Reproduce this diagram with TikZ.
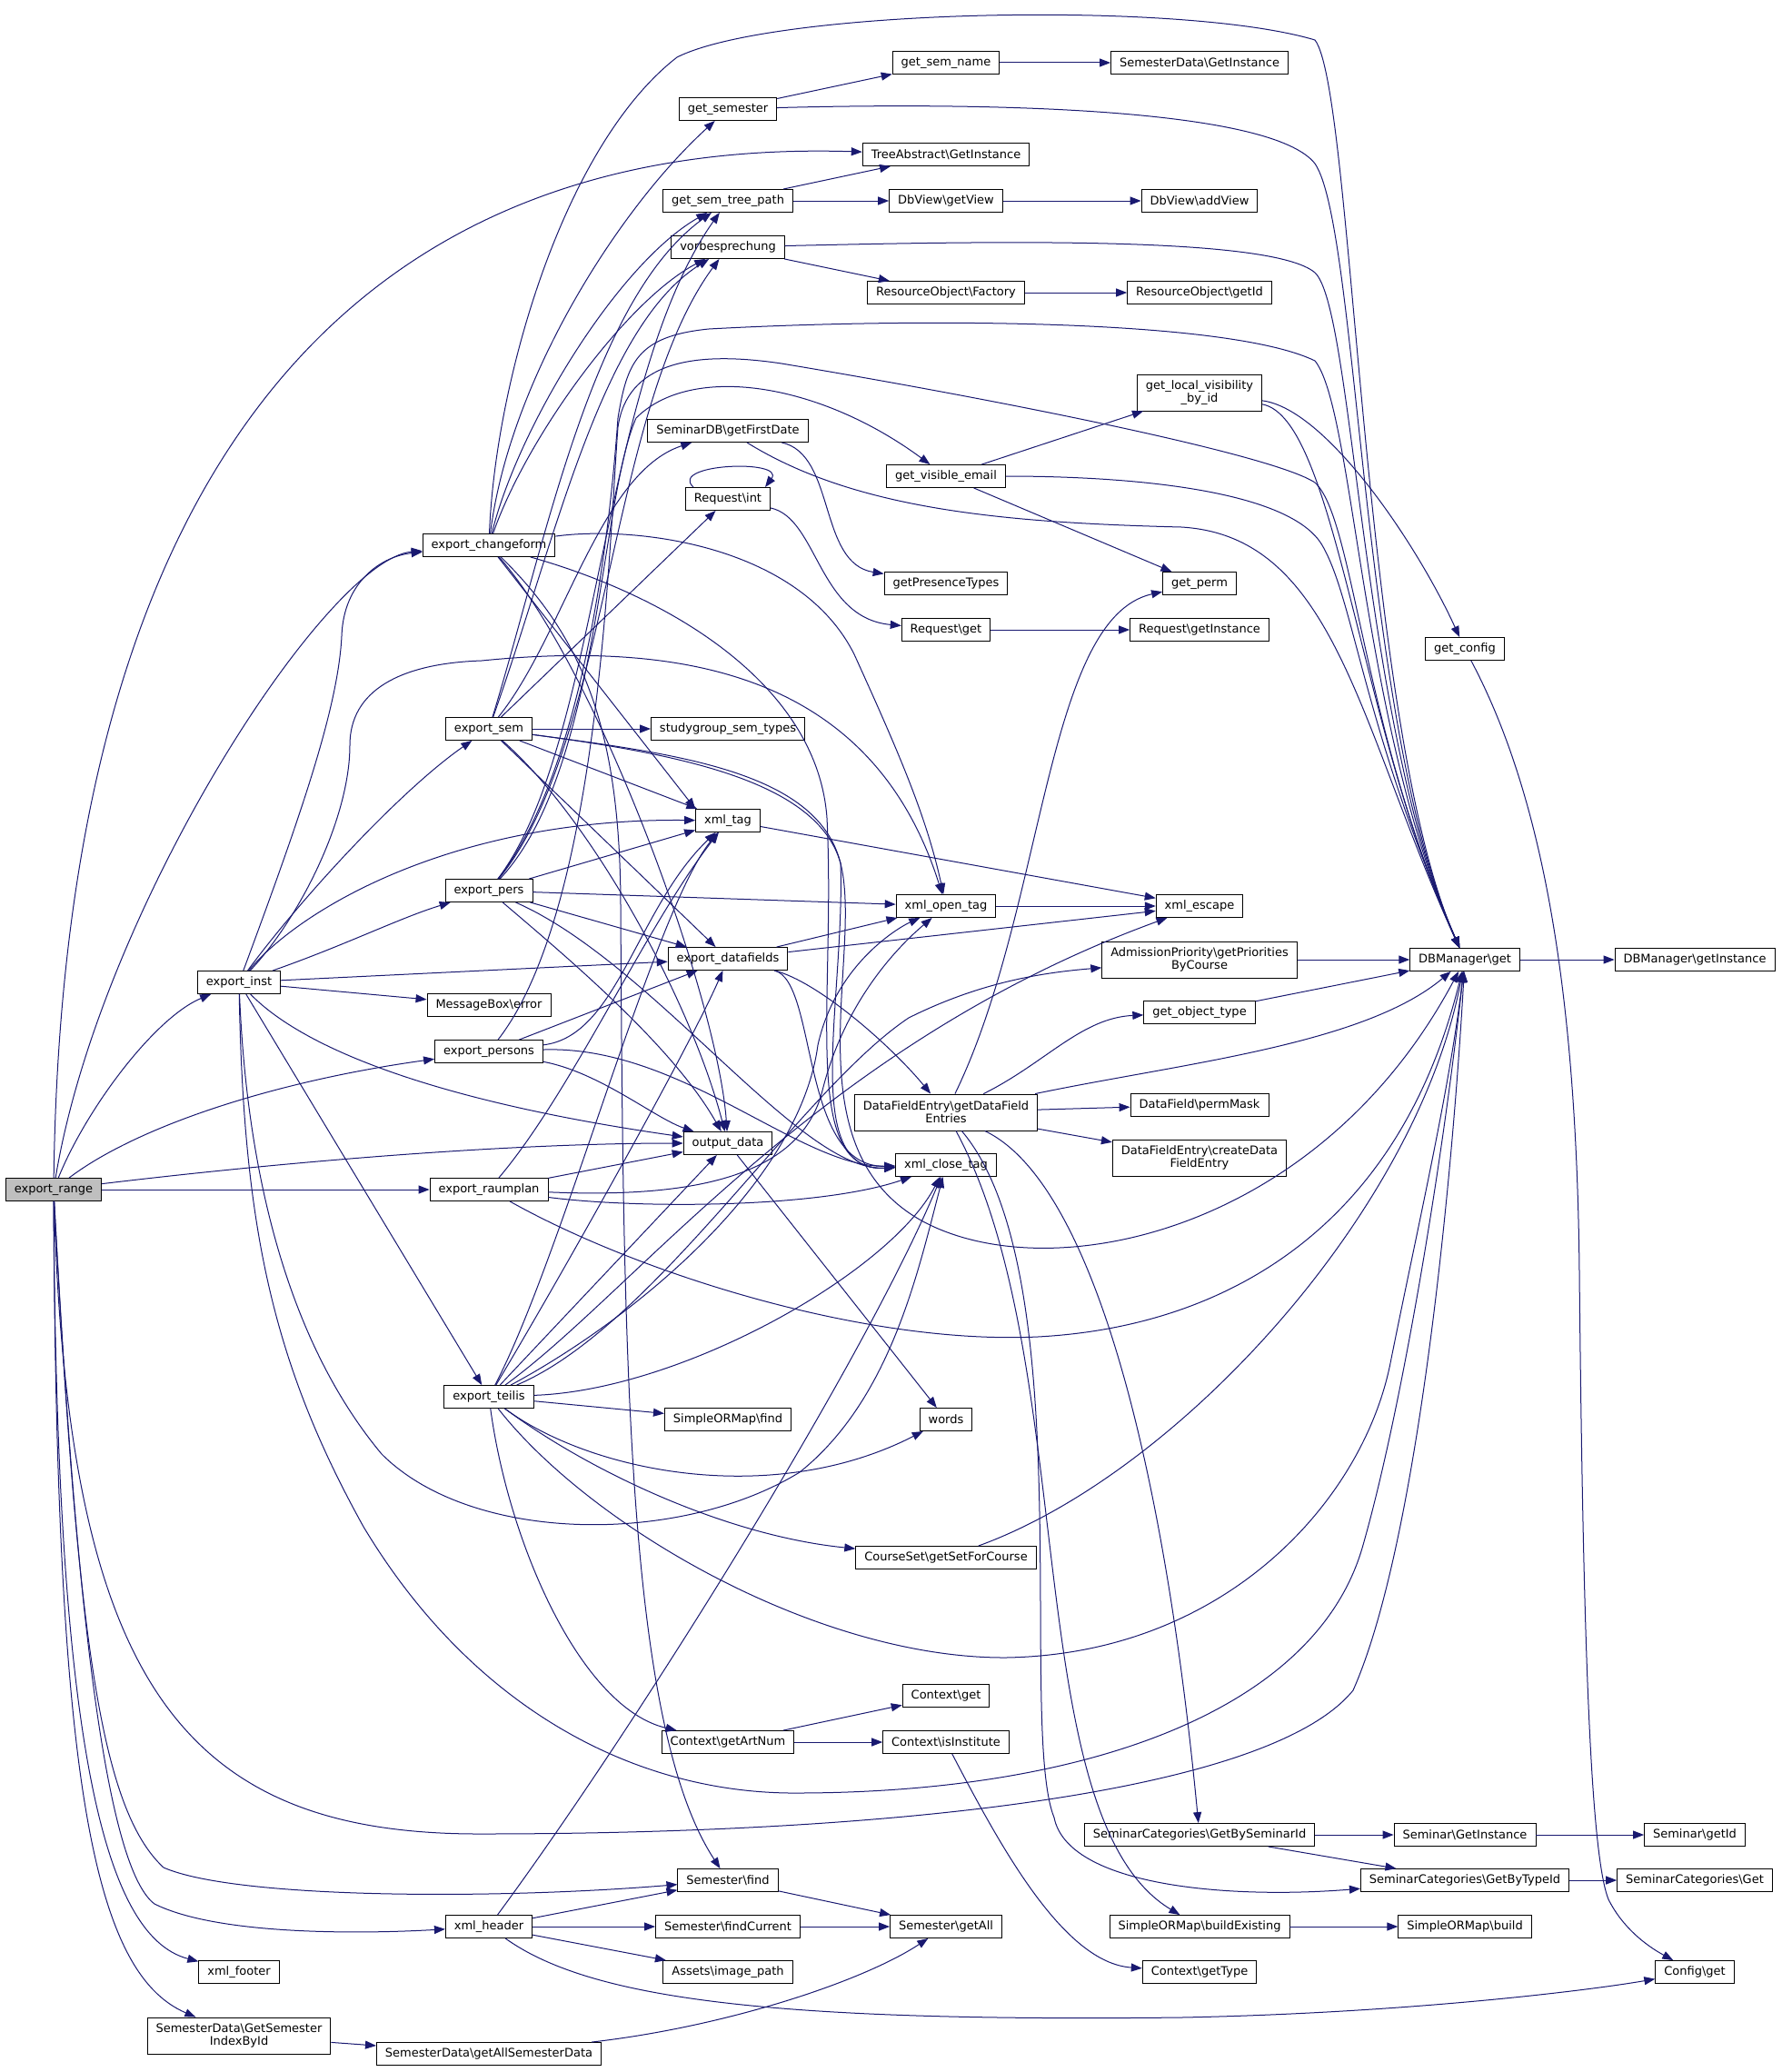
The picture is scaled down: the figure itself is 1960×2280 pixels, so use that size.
\documentclass[tikz,border=0pt]{standalone}
\usepackage{fontspec}
\setmainfont{DejaVu Sans}
\usepackage{xcolor}
\usetikzlibrary{arrows.meta}
\definecolor{edgeblue}{HTML}{191970}
\definecolor{rootgray}{HTML}{BFBFBF}
\newcommand{\bsl}{\textbackslash}

\begin{document}
\begin{tikzpicture}[x=1pt, y=-1pt, >={Triangle[length=12pt,width=9pt]},
    fn/.style={draw=black, line width=0.9pt, fill=white, inner xsep=9.5pt, inner ysep=5pt,
               minimum height=25pt, align=center, font=\fontsize{13}{14}\selectfont},
    root/.style={fn, fill=rootgray},
    two/.style={minimum height=40pt},
    call/.style={->, draw=edgeblue, line width=1pt}]

    \useasboundingbox (0,0) rectangle (1960,2280);

    % =================================================================
    % NODES: EXPORT FUNCTIONS (LEFT)
    % =================================================================
    \node[root] (rng) at (59,1309) {export\_range};
    \node[fn] (inst) at (263,1081) {export\_inst};
    \node[fn] (ftr) at (263,2170) {xml\_footer};
    \node[fn, two] (sdidx) at (263,2240) {SemesterData\bsl GetSemester\\IndexById};
    \node[fn] (chg) at (538,600) {export\_changeform};
    \node[fn] (sem) at (538,802) {export\_sem};
    \node[fn] (pers) at (538,980) {export\_pers};
    \node[fn] (err) at (538,1106) {MessageBox\bsl error};
    \node[fn] (psns) at (538,1157) {export\_persons};
    \node[fn] (raum) at (538,1309) {export\_raumplan};
    \node[fn] (teil) at (538,1537) {export\_teilis};
    \node[fn] (hdr) at (538,2120) {xml\_header};
    \node[fn] (sdall) at (538,2260) {SemesterData\bsl getAllSemesterData};

    % =================================================================
    % NODES: SECOND COLUMN
    % =================================================================
    \node[fn] (gsem) at (801,120) {get\_semester};
    \node[fn] (stree) at (801,221) {get\_sem\_tree\_path};
    \node[fn] (vorb) at (801,272) {vorbesprechung};
    \node[fn] (first) at (801,474) {SeminarDB\bsl getFirstDate};
    \node[fn] (rint) at (801,549) {Request\bsl int};
    \node[fn] (sgst) at (801,802) {studygroup\_sem\_types};
    \node[fn] (xtag) at (801,903) {xml\_tag};
    \node[fn] (dfld) at (801,1055) {export\_datafields};
    \node[fn] (out) at (801,1258) {output\_data};
    \node[fn] (ormf) at (801,1562) {SimpleORMap\bsl find};
    \node[fn] (artn) at (801,1917) {Context\bsl getArtNum};
    \node[fn] (sfind) at (801,2069) {Semester\bsl find};
    \node[fn] (scur) at (801,2120) {Semester\bsl findCurrent};
    \node[fn] (img) at (801,2170) {Assets\bsl image\_path};

    % =================================================================
    % NODES: THIRD COLUMN
    % =================================================================
    \node[fn] (gname) at (1041,69) {get\_sem\_name};
    \node[fn] (tree) at (1041,170) {TreeAbstract\bsl GetInstance};
    \node[fn] (gview) at (1041,221) {DbView\bsl getView};
    \node[fn] (rfac) at (1041,322) {ResourceObject\bsl Factory};
    \node[fn] (vmail) at (1041,524) {get\_visible\_email};
    \node[fn] (pres) at (1041,642) {getPresenceTypes};
    \node[fn] (rget) at (1041,693) {Request\bsl get};
    \node[fn] (xopen) at (1041,997) {xml\_open\_tag};
    \node[fn, two] (dfe) at (1041,1224) {DataFieldEntry\bsl getDataField\\Entries};
    \node[fn] (xclose) at (1041,1282) {xml\_close\_tag};
    \node[fn] (words) at (1041,1562) {words};
    \node[fn] (cset) at (1041,1714) {CourseSet\bsl getSetForCourse};
    \node[fn] (cget) at (1041,1866) {Context\bsl get};
    \node[fn] (cinst) at (1041,1917) {Context\bsl isInstitute};
    \node[fn] (sall) at (1041,2120) {Semester\bsl getAll};

    % =================================================================
    % NODES: FOURTH COLUMN
    % =================================================================
    \node[fn] (sdgi) at (1320,69) {SemesterData\bsl GetInstance};
    \node[fn] (addv) at (1320,221) {DbView\bsl addView};
    \node[fn] (rid) at (1320,322) {ResourceObject\bsl getId};
    \node[fn, two] (lvis) at (1320,432) {get\_local\_visibility\\\_by\_id};
    \node[fn] (perm) at (1320,642) {get\_perm};
    \node[fn] (rgi) at (1320,693) {Request\bsl getInstance};
    \node[fn] (xesc) at (1320,997) {xml\_escape};
    \node[fn, two] (adm) at (1320,1056) {AdmissionPriority\bsl getPriorities\\ByCourse};
    \node[fn] (otype) at (1320,1114) {get\_object\_type};
    \node[fn] (pmask) at (1320,1216) {DataField\bsl permMask};
    \node[fn, two] (cdfe) at (1320,1274) {DataFieldEntry\bsl createData\\FieldEntry};
    \node[fn] (bysem) at (1320,2019) {SeminarCategories\bsl GetBySeminarId};
    \node[fn] (bex) at (1320,2120) {SimpleORMap\bsl buildExisting};
    \node[fn] (ctype) at (1320,2170) {Context\bsl getType};

    % =================================================================
    % NODES: RIGHT COLUMNS
    % =================================================================
    \node[fn] (gcfg) at (1612,714) {get\_config};
    \node[fn] (dbget) at (1612,1056) {DBManager\bsl get};
    \node[fn] (sgi) at (1612,2019) {Seminar\bsl GetInstance};
    \node[fn] (bytype) at (1612,2069) {SeminarCategories\bsl GetByTypeId};
    \node[fn] (build) at (1612,2120) {SimpleORMap\bsl build};
    \node[fn] (dbgi) at (1865,1056) {DBManager\bsl getInstance};
    \node[fn] (sgid) at (1865,2019) {Seminar\bsl getId};
    \node[fn] (scget) at (1865,2069) {SeminarCategories\bsl Get};
    \node[fn] (cfg) at (1865,2170) {Config\bsl get};

    % =================================================================
    % CALLS FROM export_range
    % =================================================================
    \draw[call] (rng) .. controls (110,1000) and (360,615) .. (chg);
    \draw[call] (rng) .. controls (70,500) and (400,150) .. (tree);
    \draw[call] (rng) .. controls (95,1220) and (170,1120) .. (inst);
    \draw[call] (rng) .. controls (150,1240) and (300,1190) .. (psns);
    \draw[call] (rng) .. controls (300,1280) and (550,1258) .. (out);
    \draw[call] (rng) -- (raum);
    \draw[call] (rng) .. controls (75,1850) and (200,2018) .. (527,2018) .. controls (1000,2018) and (1400,1970) .. (1489,1860) .. controls (1560,1700) and (1598,1300) .. (dbget);
    \draw[call] (rng) .. controls (85,1800) and (110,1990) .. (180,2055) .. controls (260,2090) and (550,2090) .. (sfind);
    \draw[call] (rng) .. controls (80,1700) and (110,2050) .. (170,2095) .. controls (240,2130) and (400,2128) .. (hdr);
    \draw[call] (rng) .. controls (62,1900) and (110,2130) .. (ftr);
    \draw[call] (rng) .. controls (62,1950) and (100,2170) .. (sdidx);

    % =================================================================
    % CALLS FROM export_inst
    % =================================================================
    \draw[call] (inst) .. controls (330,900) and (372,780) .. (376,700) .. controls (378,640) and (420,612) .. (chg);
    \draw[call] (inst) .. controls (330,990) and (440,870) .. (sem);
    \draw[call] (inst) .. controls (380,1040) and (440,1010) .. (pers);
    \draw[call] (inst) .. controls (330,1000) and (500,900) .. (xtag);
    \draw[call] (inst) .. controls (330,1010) and (385,900) .. (385,820) .. controls (385,760) and (440,730) .. (530,727) .. controls (750,705) and (960,740) .. (xopen);
    \draw[call] (inst) -- (dfld);
    \draw[call] (inst) -- (err);
    \draw[call] (inst) .. controls (340,1160) and (500,1215) .. (out);
    \draw[call] (inst) -- (teil);
    \draw[call] (inst) .. controls (272,1300) and (320,1480) .. (420,1600) .. controls (520,1700) and (750,1700) .. (880,1620) .. controls (980,1540) and (1010,1400) .. (xclose);
    \draw[call] (inst) .. controls (268,1350) and (300,1500) .. (400,1680) .. controls (520,1880) and (700,1975) .. (880,1973) .. controls (1200,1972) and (1450,1880) .. (1500,1700) .. controls (1540,1560) and (1585,1300) .. (dbget);

    % =================================================================
    % CALLS FROM export_changeform
    % =================================================================
    \draw[call] (chg) .. controls (545,420) and (620,160) .. (745,63) .. controls (850,10) and (1300,0) .. (1447,44) .. controls (1490,100) and (1498,800) .. (dbget);
    \draw[call] (chg) .. controls (560,420) and (680,230) .. (gsem);
    \draw[call] (chg) .. controls (570,470) and (680,290) .. (stree);
    \draw[call] (chg) .. controls (580,480) and (690,330) .. (vorb);
    \draw[call] (chg) -- (xtag.north west);
    \draw[call] (chg) .. controls (660,740) and (790,1100) .. (out);
    \draw[call] (chg) .. controls (700,578) and (880,600) .. (940,720) .. controls (990,830) and (1020,900) .. (xopen);
    \draw[call] (chg) .. controls (750,660) and (900,760) .. (910,900) .. controls (920,1100) and (880,1290) .. (xclose);
    \draw[call] (chg) .. controls (640,700) and (683,800) .. (683,1000) .. controls (686,1500) and (690,1900) .. (sfind);

    % =================================================================
    % CALLS FROM export_sem
    % =================================================================
    \draw[call] (sem) .. controls (600,600) and (650,330) .. (stree);
    \draw[call] (sem) .. controls (610,600) and (660,360) .. (vorb);
    \draw[call] (sem) .. controls (620,700) and (660,520) .. (first);
    \draw[call] (sem) -- (rint);
    \draw[call] (sem) -- (sgst);
    \draw[call] (sem) -- (xtag);
    \draw[call] (sem) -- (dfld);
    \draw[call] (sem) .. controls (650,900) and (760,1100) .. (out);
    \draw[call] (sem) .. controls (750,830) and (900,850) .. (925,950) .. controls (930,1100) and (880,1290) .. (xclose);
    \draw[call] (sem) .. controls (750,830) and (900,860) .. (925,950) .. controls (950,1050) and (870,1260) .. (1012,1342) .. controls (1150,1420) and (1450,1360) .. (dbget);

    % =================================================================
    % CALLS FROM export_pers
    % =================================================================
    \draw[call] (pers) .. controls (660,820) and (660,420) .. (stree);
    \draw[call] (pers) .. controls (670,820) and (670,450) .. (vorb);
    \draw[call] (pers) .. controls (660,850) and (660,550) .. (700,460) .. controls (760,400) and (900,420) .. (vmail);
    \draw[call] (pers) .. controls (640,850) and (670,600) .. (680,460) .. controls (690,400) and (700,370) .. (780,362) .. controls (1000,350) and (1350,350) .. (1447,397) .. controls (1490,450) and (1498,800) .. (dbget);
    \draw[call] (pers) -- (xtag);
    \draw[call] (pers) -- (xopen);
    \draw[call] (pers) -- (dfld);
    \draw[call] (pers) .. controls (620,1050) and (740,1150) .. (out);
    \draw[call] (pers) .. controls (720,1060) and (880,1290) .. (xclose);

    % =================================================================
    % CALLS FROM export_persons AND export_raumplan
    % =================================================================
    \draw[call] (psns) .. controls (680,1140) and (700,1000) .. (xtag);
    \draw[call] (psns) -- (dfld);
    \draw[call] (psns) .. controls (660,1180) and (720,1230) .. (out);
    \draw[call] (psns) .. controls (750,1150) and (880,1285) .. (xclose);
    \draw[call] (psns) .. controls (660,1000) and (670,600) .. (680,470) .. controls (690,400) and (760,385) .. (860,400) .. controls (1100,440) and (1400,500) .. (1447,531) .. controls (1490,570) and (1498,800) .. (dbget);

    \draw[call] (raum) .. controls (630,1200) and (710,1020) .. (xtag);
    \draw[call] (raum) -- (out);
    \draw[call] (raum) .. controls (750,1318) and (880,1300) .. (905,1200) .. controls (930,1100) and (990,1040) .. (xopen);
    \draw[call] (raum) .. controls (700,1330) and (900,1330) .. (xclose);
    \draw[call] (raum) .. controls (700,1400) and (950,1480) .. (1142,1471) .. controls (1350,1460) and (1540,1350) .. (dbget);

    % =================================================================
    % CALLS FROM export_teilis
    % =================================================================
    \draw[call] (teil) .. controls (620,1380) and (720,1000) .. (xtag);
    \draw[call] (teil) .. controls (620,1400) and (760,1150) .. (dfld);
    \draw[call] (teil) -- (out);
    \draw[call] (teil) .. controls (700,1450) and (880,1300) .. (900,1150) .. controls (920,1060) and (990,1020) .. (xopen);
    \draw[call] (teil) .. controls (700,1420) and (900,1150) .. (xesc);
    \draw[call] (teil) .. controls (720,1460) and (880,1200) .. (1000,1120) .. controls (1080,1080) and (1150,1070) .. (adm);
    \draw[call] (teil) .. controls (750,1530) and (980,1400) .. (xclose);
    \draw[call] (teil) -- (ormf);
    \draw[call] (teil) .. controls (650,1620) and (850,1660) .. (words);
    \draw[call] (teil) .. controls (650,1620) and (800,1690) .. (cset);
    \draw[call] (teil) .. controls (560,1700) and (640,1880) .. (artn);
    \draw[call] (teil) .. controls (650,1680) and (900,1825) .. (1107,1824) .. controls (1350,1820) and (1500,1650) .. (1530,1500) .. controls (1560,1350) and (1595,1200) .. (dbget);

    % =================================================================
    % CALLS FROM xml_header
    % =================================================================
    \draw[call] (hdr) .. controls (700,1900) and (950,1500) .. (xclose);
    \draw[call] (hdr) -- (sfind);
    \draw[call] (hdr) -- (scur);
    \draw[call] (hdr) -- (img);
    \draw[call] (hdr) .. controls (650,2200) and (850,2225) .. (1300,2220) .. controls (1550,2215) and (1750,2190) .. (cfg);

    % =================================================================
    % OTHER CALLS
    % =================================================================
    \draw[call] (gsem) -- (gname);
    \draw[call] (gsem) .. controls (1100,112) and (1400,120) .. (1447,180) .. controls (1495,250) and (1498,800) .. (dbget);
    \draw[call] (gname) -- (sdgi);
    \draw[call] (stree) -- (tree);
    \draw[call] (stree) -- (gview);
    \draw[call] (gview) -- (addv);
    \draw[call] (vorb) -- (rfac);
    \draw[call] (vorb) .. controls (1100,265) and (1400,260) .. (1447,300) .. controls (1490,340) and (1498,800) .. (dbget);
    \draw[call] (rfac) -- (rid);
    \draw[call] (first) .. controls (920,500) and (900,620) .. (pres);
    \draw[call] (first) .. controls (940,560) and (1100,575) .. (1300,580) .. controls (1470,590) and (1495,800) .. (dbget);
    \draw[call] ([xshift=9pt]rint.north west) .. controls (735,510) and (865,505) .. ([xshift=-6pt]rint.north east);
    \draw[call] (rint) .. controls (900,570) and (900,680) .. (rget);
    \draw[call] (rget) -- (rgi);
    \draw[call] (vmail) -- (lvis);
    \draw[call] (vmail) .. controls (1250,524) and (1420,540) .. (1455,600) .. controls (1490,660) and (1500,800) .. (dbget);
    \draw[call] (vmail) -- (perm);
    \draw[call] (lvis) .. controls (1460,450) and (1560,600) .. (gcfg);
    \draw[call] (lvis) .. controls (1470,460) and (1495,800) .. (dbget);
    \draw[call] (gcfg) .. controls (1700,880) and (1735,1100) .. (1738,1400) .. controls (1742,1800) and (1750,2040) .. (1770,2090) .. controls (1785,2120) and (1810,2140) .. (cfg);
    \draw[call] (xtag) -- (xesc);
    \draw[call] (xopen) -- (xesc);
    \draw[call] (dfld) -- (xopen);
    \draw[call] (dfld) -- (xesc);
    \draw[call] (dfld) .. controls (900,1080) and (980,1150) .. (dfe);
    \draw[call] (dfld) .. controls (900,1080) and (880,1285) .. (xclose);
    \draw[call] (out) -- (words);
    \draw[call] (dfe) .. controls (1150,1000) and (1150,680) .. (perm);
    \draw[call] (dfe) .. controls (1150,1170) and (1190,1120) .. (otype);
    \draw[call] (dfe) .. controls (1300,1170) and (1500,1150) .. (dbget);
    \draw[call] (dfe) -- (pmask);
    \draw[call] (dfe) -- (cdfe);
    \draw[call] (dfe) .. controls (1200,1300) and (1280,1600) .. (bysem);
    \draw[call] (dfe) .. controls (1190,1400) and (1120,1900) .. (1160,2000) .. controls (1175,2075) and (1350,2090) .. (bytype);
    \draw[call] (dfe) .. controls (1190,1500) and (1120,2000) .. (bex);
    \draw[call] (adm) -- (dbget);
    \draw[call] (otype) -- (dbget);
    \draw[call] (cset) .. controls (1300,1620) and (1560,1330) .. (dbget);
    \draw[call] (dbget) -- (dbgi);
    \draw[call] (artn) -- (cget);
    \draw[call] (artn) -- (cinst);
    \draw[call] (cinst) .. controls (1100,2030) and (1170,2160) .. (ctype);
    \draw[call] (bysem) -- (sgi);
    \draw[call] (sgi) -- (sgid);
    \draw[call] (bysem) -- (bytype);
    \draw[call] (bytype) -- (scget);
    \draw[call] (bex) -- (build);
    \draw[call] (sfind) -- (sall);
    \draw[call] (scur) -- (sall);
    \draw[call] (sdidx) -- (sdall);
    \draw[call] (sdall) .. controls (800,2230) and (950,2180) .. (sall);

\end{tikzpicture}
\end{document}
